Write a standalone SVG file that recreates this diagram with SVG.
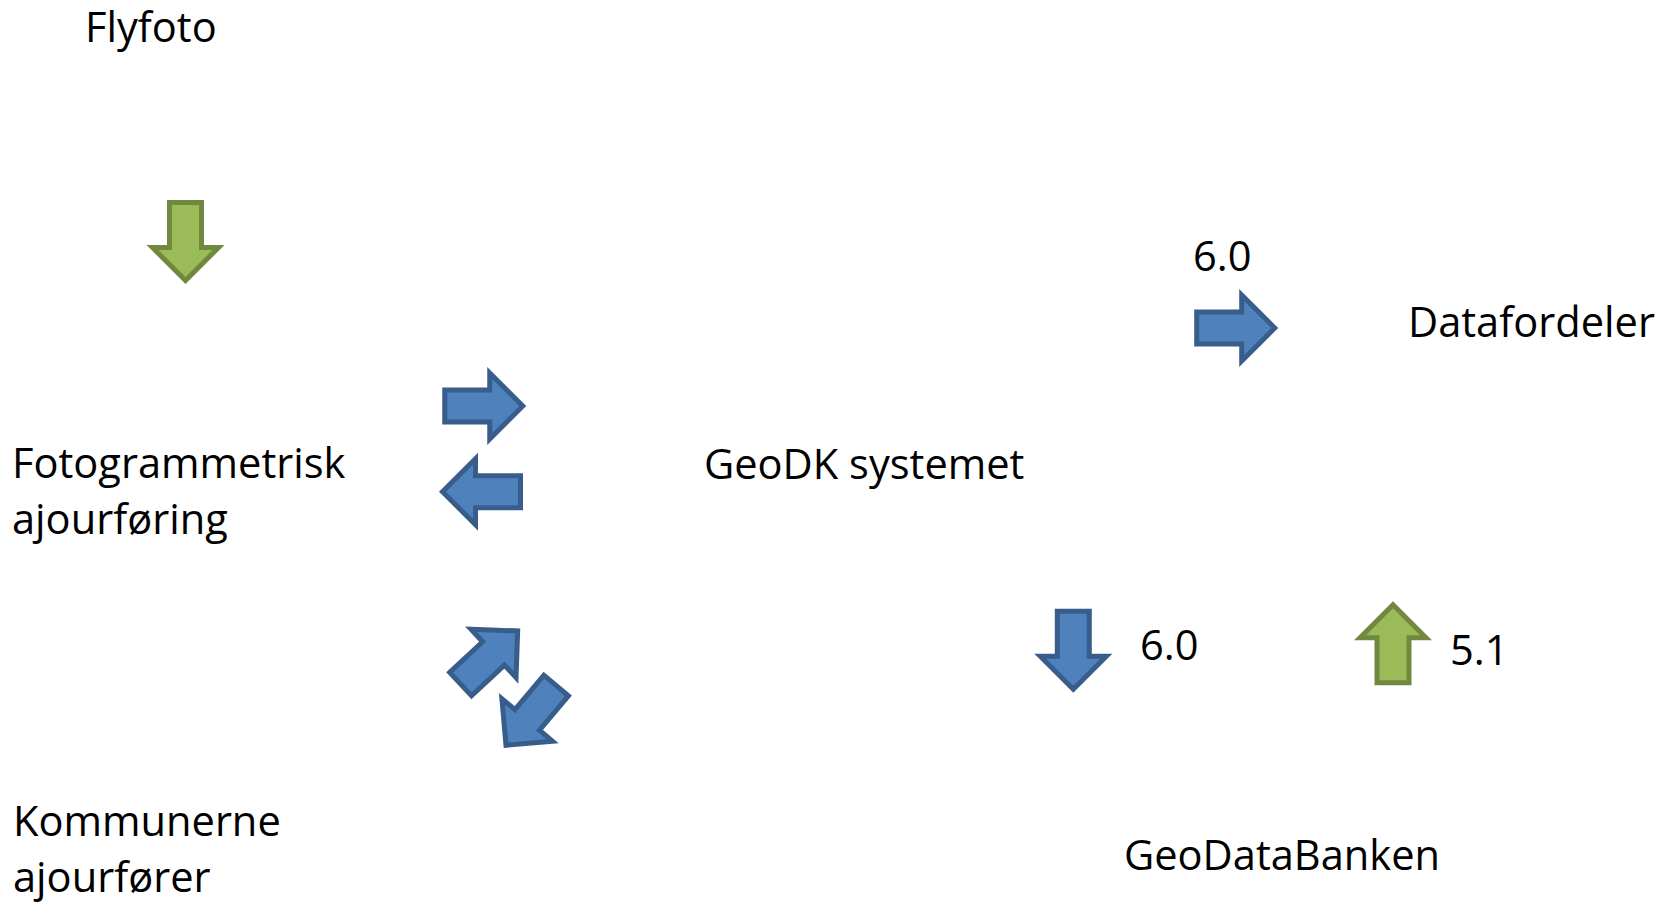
<svg xmlns="http://www.w3.org/2000/svg" xmlns:xlink="http://www.w3.org/1999/xlink" width="1667" height="903" viewBox="0 0 1667 903">
  <style>
    .lbl { font-family: "Open Sans", "Liberation Sans", sans-serif; font-size: 41.6px; fill: #000000; }
    .blue { fill: #4F81BD; stroke: #385D8A; stroke-width: 5; stroke-linejoin: miter; }
    .green { fill: #9BBB59; stroke: #71893F; stroke-width: 5; stroke-linejoin: miter; }
  </style>
  <defs>
    <polygon id="arr" points="-38,-16 7,-16 7,-33 40,0 7,33 7,16 -38,16"/>
  </defs>
  <rect width="1667" height="903" fill="#ffffff"/>

  <g id="flyfoto"><text class="lbl" x="85" y="42">Flyfoto</text></g>
  <g id="fotogrammetrisk"><text class="lbl" x="12" y="478">Fotogrammetrisk</text><text class="lbl" x="12" y="534">ajourføring</text></g>
  <g id="kommunerne"><text class="lbl" x="13" y="836">Kommunerne</text><text class="lbl" x="13" y="892">ajourfører</text></g>
  <g id="geodk"><text class="lbl" x="704" y="479">GeoDK systemet</text></g>
  <g id="datafordeler"><text class="lbl" x="1408" y="337">Datafordeler</text></g>
  <g id="geodatabanken"><text class="lbl" x="1124" y="870">GeoDataBanken</text></g>

  <g id="connectors">
    <use xlink:href="#arr" class="green" transform="translate(185.5,240.5) rotate(90)"/>
    <use xlink:href="#arr" class="blue" transform="translate(482.75,406)"/>
    <use xlink:href="#arr" class="blue" transform="translate(482.5,491.7) rotate(180)"/>
    <use xlink:href="#arr" class="blue" transform="translate(488.4,658.2) rotate(-43)"/>
    <use xlink:href="#arr" class="blue" transform="translate(531.7,714.6) rotate(130)"/>
    <use xlink:href="#arr" class="blue" transform="translate(1234.7,328)"/>
    <use xlink:href="#arr" class="blue" transform="translate(1073.3,649.2) rotate(90)"/>
    <use xlink:href="#arr" class="green" transform="translate(1393,644.7) rotate(-90)"/>
    <text class="lbl" x="1193" y="271">6.0</text>
    <text class="lbl" x="1140" y="660">6.0</text>
    <text class="lbl" x="1450" y="665">5.1</text>
  </g>
</svg>
